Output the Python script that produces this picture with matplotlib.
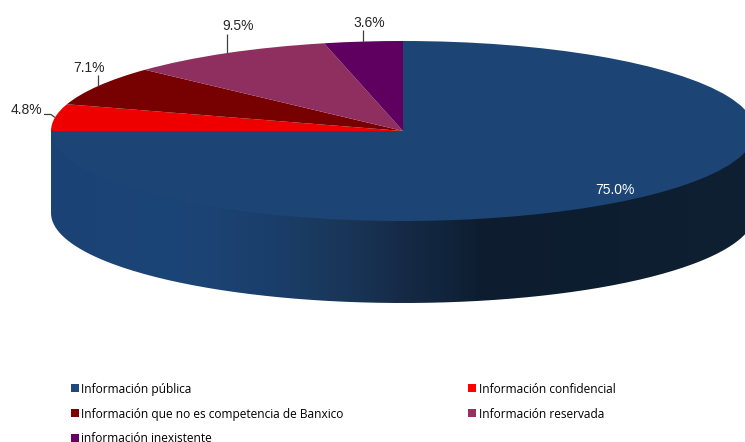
import numpy as np
import matplotlib
matplotlib.use("Agg")
import matplotlib.pyplot as plt
from matplotlib.colors import LinearSegmentedColormap
from matplotlib.patches import PathPatch, Patch
from matplotlib.path import Path

categories = ["Información pública", "Información confidencial",
              "Información que no es competencia de Banxico",
              "Información reservada", "información inexistente"]
values = [75.0, 4.8, 7.1, 9.5, 3.6]
top_colors = ["#1c4475", "#ee0000", "#770000", "#8f2f5f", "#5f0060"]
legend_colors = ["#1f497d", "#ff0000", "#7f0000", "#953163", "#660066"]

W, H = 745, 442
CX, CY, RX, RY, DEPTH = 403, 131, 352, 90, 82

fig = plt.figure(figsize=(W / 100, H / 100), dpi=100)
ax = fig.add_axes([0, 0, 1, 1])
wedges, _ = ax.pie(values, colors=top_colors, startangle=90, counterclock=False,
                   radius=1, wedgeprops=dict(linewidth=0, zorder=3))
ax.set_aspect("auto")
ax.axis("off")

# side wall with horizontal gradient; it runs on underneath the top surface
d = DEPTH / RY
th = np.linspace(np.pi, 2 * np.pi, 200)
vx = np.r_[np.cos(th), 1, -1]
vy = np.r_[np.sin(th) - d, 0, 0]
wall = PathPatch(Path(np.c_[vx, vy]), fc="none", ec="none", transform=ax.transData)
ax.add_patch(wall)
cmap = LinearSegmentedColormap.from_list("wall", [
    (0.00, "#1b4274"), (0.18, "#1c4577"), (0.30, "#1b3f6c"), (0.42, "#193658"),
    (0.50, "#162a47"), (0.57, "#10233a"), (0.62, "#0d1c2f"), (1.00, "#0f2033")])
im = ax.imshow(np.linspace(0, 1, 512)[None, :], cmap=cmap, aspect="auto",
               extent=(-1, 1, -1 - d, 0), zorder=2)
im.set_clip_path(wall)
ax.set_xlim(-CX / RX, (W - CX) / RX)
ax.set_ylim(-(H - CY) / RY, CY / RY)

# labels with leaders (offsets in pixels from the slice's rim mid-point)
label_style = [
    ("#ffffff", None, (-37, 5)),
    ("#262626", [(-4, 3), (-11, 3)], (-29, 7)),
    ("#262626", [(0, 11)], (-9, 18)),
    ("#262626", [(0, 19)], (11, 27)),
    ("#262626", [(0, 12)], (6, 19)),
]
starts = np.cumsum([0] + values[:-1])
for v, s, (col, leader, off) in zip(values, starts, label_style):
    ang = np.deg2rad(90 - (s + v / 2) * 3.6)
    rim = np.array([np.cos(ang), np.sin(ang)])
    if leader is not None:
        pts = [rim] + [rim + np.array([p[0] / RX, p[1] / RY]) for p in leader]
        pts = np.array(pts)
        ax.plot(pts[:, 0], pts[:, 1], color="#404040", lw=0.9, zorder=4,
                clip_on=False, solid_capstyle="butt")
    ax.annotate(f"{v:.1f}%", xy=rim, xytext=off, textcoords="offset pixels",
                ha="center", va="center", color=col, fontsize=10,
                family="Liberation Sans", zorder=5)

# legend
order = [0, 2, 4, 1, 3]
handles = [Patch(fc=legend_colors[i], ec="none", label=categories[i]) for i in order]
leg = fig.legend(handles=handles, ncol=2, frameon=False,
                 loc="upper left", bbox_to_anchor=(67 / W, 1 - 379 / H),
                 bbox_transform=fig.transFigure, borderaxespad=0, borderpad=0.3,
                 prop=dict(family="Open Sans", size=8.6),
                 handlelength=0.67, handleheight=0.67, handletextpad=0.22,
                 labelspacing=1.0, columnspacing=10.45)

fig.savefig("out.png", dpi=100, facecolor="white")
